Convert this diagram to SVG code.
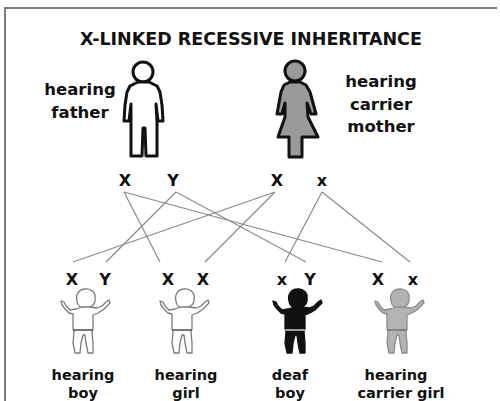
<svg xmlns="http://www.w3.org/2000/svg" xmlns:xlink="http://www.w3.org/1999/xlink" width="500" height="401" viewBox="0 0 500 401">
  <style>
    .t { font-family: "DejaVu Sans", Verdana, sans-serif; font-weight: bold; fill: #111; text-anchor: middle; }
    .title { font-size: 17.5px; }
    .plabel { font-size: 16.5px; }
    .allele { font-size: 16px; }
    .clabel { font-size: 14.5px; }
    .link { stroke: #8a8a8a; stroke-width: 1.2; fill: none; }
    .frame { stroke: #7a7a7a; stroke-width: 2; fill: none; }
    .adult { stroke: #111; stroke-width: 3; stroke-linejoin: round; }
  </style>
  <defs>
    <!-- toddler outline, head centre at (0,0) -->
    <path id="kidHead" d="M -9,2 C -11,-5 -6,-10 -1,-10 C 5,-11 10,-6 9,-1 C 10,5 5,9 0,9 C -5,10 -9,6 -9,2 Z"/>
    <path id="kidBody" d="M -4,8 L -10,10 L -16,11 L -20,7 L -22,3 L -25,2 L -24,6 L -21,10 L -17,14 L -13,15 L -13,30 L -12,33 L -13,44 L -11,54 L -6,54 L -5,44 L -3,36 L -1,36 L 0,44 L 2,54 L 7,54 L 7,44 L 6,33 L 7,30 L 7,16 L 12,14 L 17,11 L 21,7 L 24,4 L 23,1 L 20,3 L 16,7 L 11,9 L 4,8 Z"/>
    <path id="kidBelt" d="M -13,31 L 7,31"/>
  </defs>

  <rect width="500" height="401" fill="#ffffff"/>

  <!-- frame -->
  <path class="frame" d="M 5,401 L 5,8 L 497,8"/>

  <text class="t title" x="251" y="45">X-LINKED RECESSIVE INHERITANCE</text>

  <!-- connectors: each parental allele to the two children that receive it -->
  <g id="connectors">
    <line class="link" x1="124" y1="192" x2="160" y2="262"/>
    <line class="link" x1="124" y1="192" x2="382" y2="262"/>
    <line class="link" x1="176" y1="192" x2="106" y2="262"/>
    <line class="link" x1="176" y1="192" x2="306" y2="262"/>
    <line class="link" x1="275" y1="192" x2="73" y2="262"/>
    <line class="link" x1="275" y1="192" x2="205" y2="262"/>
    <line class="link" x1="322" y1="192" x2="285" y2="262"/>
    <line class="link" x1="322" y1="192" x2="410" y2="262"/>
  </g>

  <g id="father">
    <circle class="adult" cx="143" cy="72" r="10" fill="#ffffff"/>
    <path class="adult" fill="#ffffff" d="M 138,82 L 130,86 L 127,92 L 125,105 L 124,121 L 129,121 L 131,104 L 131,122 L 131,156 L 142,156 L 143,128 L 145,128 L 146,156 L 157,156 L 157,122 L 156,104 L 158,121 L 163,121 L 162,105 L 160,92 L 157,86 L 149,82 Z"/>
    <text class="t plabel" x="80" y="95">hearing</text>
    <text class="t plabel" x="80" y="118">father</text>
    <text class="t allele" x="125" y="186">X</text>
    <text class="t allele" x="173" y="186">Y</text>
  </g>

  <g id="mother">
    <circle class="adult" stroke-width="2.5" cx="295" cy="71" r="10" fill="#9a9a9a"/>
    <path class="adult" stroke-width="2.5" fill="#9a9a9a" d="M 290,82 L 284,85 L 281,92 L 279,103 L 277,114 L 282,114 L 285,103 L 285,117 L 278,137 L 289,137 L 289,157 L 302,157 L 302,137 L 318,137 L 308,117 L 307,103 L 311,114 L 316,114 L 313,103 L 310,92 L 306,85 L 300,82 Z"/>
    <text class="t plabel" x="381" y="87">hearing</text>
    <text class="t plabel" x="381" y="110">carrier</text>
    <text class="t plabel" x="381" y="132">mother</text>
    <text class="t allele" x="277" y="186">X</text>
    <text class="t allele" x="322" y="186">x</text>
  </g>

  <g id="hearing-boy">
    <g transform="translate(86,299)" fill="#ffffff" stroke="#7a7a7a" stroke-width="1.3" stroke-linejoin="round">
      <use xlink:href="#kidHead"/>
      <use xlink:href="#kidBody"/>
      <use xlink:href="#kidBelt" stroke="#555" stroke-width="1.6"/>
    </g>
    <text class="t allele" x="72" y="285">X</text>
    <text class="t allele" x="105" y="285">Y</text>
    <text class="t clabel" x="83" y="380">hearing</text>
    <text class="t clabel" x="83" y="398">boy</text>
  </g>

  <g id="hearing-girl">
    <g transform="translate(185,299)" fill="#ffffff" stroke="#7a7a7a" stroke-width="1.3" stroke-linejoin="round">
      <use xlink:href="#kidHead"/>
      <use xlink:href="#kidBody"/>
      <use xlink:href="#kidBelt" stroke="#555" stroke-width="1.6"/>
    </g>
    <text class="t allele" x="168" y="285">X</text>
    <text class="t allele" x="203" y="285">X</text>
    <text class="t clabel" x="186" y="380">hearing</text>
    <text class="t clabel" x="186" y="398">girl</text>
  </g>

  <g id="deaf-boy">
    <g transform="translate(298,299)" fill="#111111" stroke="#111111" stroke-width="1.3" stroke-linejoin="round">
      <use xlink:href="#kidHead"/>
      <use xlink:href="#kidBody"/>
      <use xlink:href="#kidBelt" stroke="#ffffff" stroke-width="1.2"/>
    </g>
    <text class="t allele" x="282" y="285">x</text>
    <text class="t allele" x="310" y="285">Y</text>
    <text class="t clabel" x="290" y="380">deaf</text>
    <text class="t clabel" x="290" y="398">boy</text>
  </g>

  <g id="carrier-girl">
    <g transform="translate(400,299)" fill="#b3b3b3" stroke="#8c8c8c" stroke-width="1.3" stroke-linejoin="round">
      <use xlink:href="#kidHead"/>
      <use xlink:href="#kidBody"/>
      <use xlink:href="#kidBelt" stroke="#777" stroke-width="1.6"/>
    </g>
    <text class="t allele" x="378" y="285">X</text>
    <text class="t allele" x="413" y="285">x</text>
    <text class="t clabel" x="396" y="380">hearing</text>
    <text class="t clabel" x="401" y="398">carrier girl</text>
  </g>
</svg>
